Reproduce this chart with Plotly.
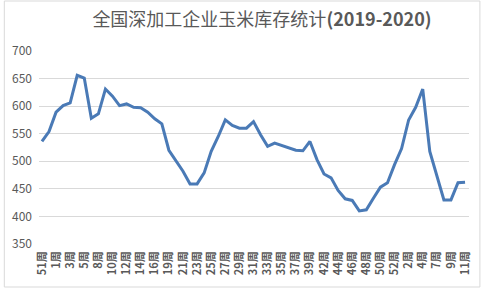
import plotly.graph_objects as go

weeks = ["51", "52", "1", "2", "3", "4", "5", "6", "8", "9", "10", "11", "12", "13", "14", "15",
         "16", "17", "19", "20", "21", "22", "23", "24", "25", "26", "27", "28", "29", "30", "31",
         "32", "33", "34", "35", "36", "37", "38", "39", "40", "42", "43", "44", "45", "46", "47",
         "48", "49", "50", "51", "52", "1", "2", "3", "4", "5", "7", "8", "9", "10", "11"]
labels = [w + "周" for w in weeks]
stock = [536, 554, 589, 601, 606, 656, 651, 578, 586, 631, 618, 601, 604, 598, 597, 589,
         577, 568, 520, 500, 482, 459, 459, 479, 518, 545, 575, 565, 560, 560, 572,
         548, 527, 533, 529, 524, 520, 519, 536, 503, 477, 470, 447, 432, 429, 410,
         412, 433, 453, 461, 494, 523, 575, 598, 631, 518, 473, 430, 430, 461, 462]

idx = list(range(len(stock)))

fig = go.Figure()
fig.add_trace(go.Scatter(x=idx, y=stock, mode="lines",
                         line=dict(color="#4a7ab6", width=3), hoverinfo="skip"))

L, R, T, B = 36, 470, 51, 244
W, H = R - L, B - T
fig.update_layout(
    width=484, height=289,
    margin=dict(l=L, r=484 - R, t=T, b=289 - B, pad=0),
    paper_bgcolor="white", plot_bgcolor="white",
    showlegend=False,
    title=dict(text="全国深加工企业玉米库存统计<b>(2019-2020)</b>",
               x=262 / 484, xanchor="center", y=1 - 20 / 289, yanchor="middle",
               font=dict(family="Noto Sans CJK SC", size=18, color="#595959")),
    font=dict(family="Noto Sans CJK SC", color="#595959"),
    xaxis=dict(range=[-0.42, 60.56], tickvals=idx[::2], ticktext=labels[::2],
               tickangle=-90, tickfont=dict(size=11, color="#595959", weight="bold"),
               showgrid=False, zeroline=False, showline=False, ticks="",
               ticklabelstandoff=4, fixedrange=True),
    yaxis=dict(range=[350, 700], dtick=50, tickfont=dict(size=12, color="#595959"),
               showgrid=True, gridcolor="#d9d9d9", gridwidth=1, zeroline=False,
               showline=False, ticks="", ticklabelstandoff=6),
    shapes=[dict(type="rect", xref="paper", yref="paper",
                 x0=(1 - L) / W, x1=(481 - L) / W,
                 y0=(B - 287) / H, y1=(B - 1) / H,
                 line=dict(color="#d9d9d9", width=1), layer="below")],
)

fig.write_html("out.html")
